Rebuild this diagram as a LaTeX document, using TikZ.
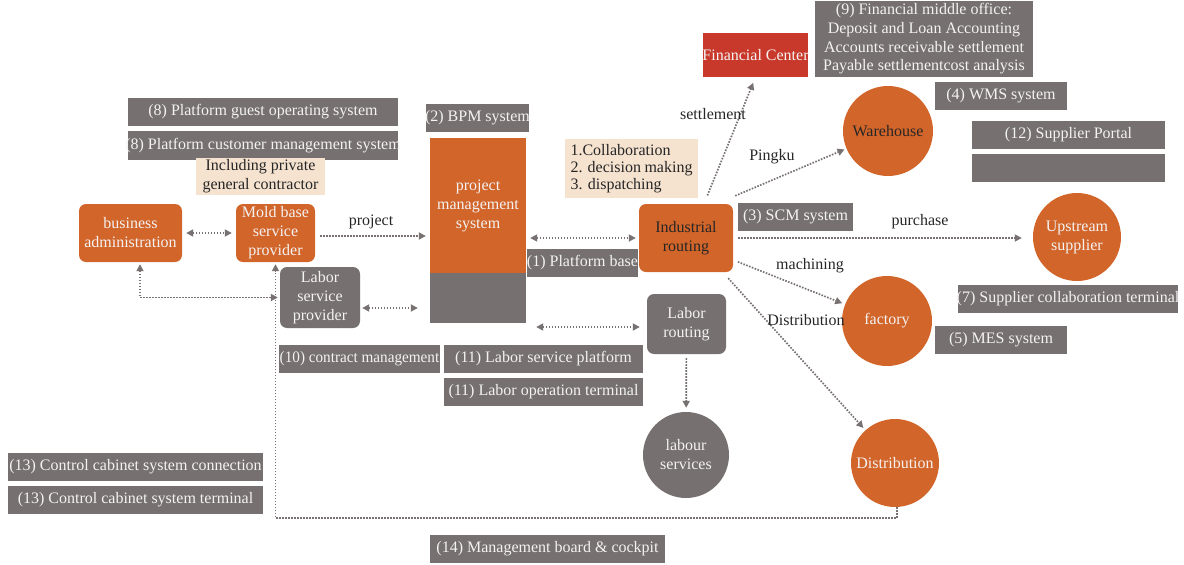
\documentclass[tikz,border=0pt]{standalone}
\usepackage{fontspec}
\setmainfont{Liberation Serif}
\usetikzlibrary{arrows.meta}
\definecolor{org}{HTML}{D2652A}
\definecolor{gry}{HTML}{767070}
\definecolor{bge}{HTML}{F5E3D0}
\definecolor{redc}{HTML}{C9392B}
\definecolor{lnc}{HTML}{777171}
\definecolor{dk}{HTML}{262626}
\definecolor{wt}{HTML}{F4F2F2}
\newcommand{\ovf}[1]{\makebox[0pt]{#1}}
\begin{document}
\begin{tikzpicture}[x=1pt,y=-1pt,
  every node/.style={font=\fontsize{16}{19}\selectfont, inner sep=0pt, align=center},
  gbox/.style={fill=gry, text=wt, minimum height=28pt},
  bbox/.style={fill=bge, text=dk},
  obox/.style={fill=org, text=wt, rounded corners=7pt},
  grbox/.style={fill=gry, text=wt, rounded corners=7pt},
  ocirc/.style={circle, fill=org, text=wt},
  gcirc/.style={circle, fill=gry, text=wt},
  lbl/.style={text=dk},
  conn/.style={draw=lnc, line width=1.7pt, dash pattern=on 1.6pt off 1.4pt, -{Triangle[length=7pt,width=7pt]}},
  biconn/.style={draw=lnc, line width=1.7pt, dash pattern=on 1.6pt off 1.4pt, {Triangle[length=7pt,width=7pt]}-{Triangle[length=7pt,width=7pt]}}
]
\useasboundingbox (0,0) rectangle (1184,565);

% left top
\node[gbox, minimum width=270pt] (g8a) at (263,112) {(8) Platform guest operating system};
\node[gbox, minimum width=270pt, minimum height=29pt] (g8b) at (263,145.5) {\ovf{(8) Platform customer management system}};
\node[bbox, minimum width=129pt, minimum height=37pt] (inc) at (260.5,176.5) {Including private\\general contractor};
\node[obox, minimum width=103pt, minimum height=58pt] (ba) at (130.5,233) {business\\administration};
\node[obox, minimum width=79pt, minimum height=58pt] (mold) at (275.5,233) {Mold base\\service\\provider};
\node[grbox, minimum width=80pt, minimum height=61pt] (lsp) at (320,297.5) {Labor\\service\\provider};

% project management system column
\node[gbox, minimum width=103pt] (bpm) at (477.5,118) {\ovf{(2) BPM system}};
\node[fill=org, text=wt, minimum width=96pt, minimum height=135pt] (pmst) at (478,205.5) {project\\management\\system};
\node[fill=gry, minimum width=96pt, minimum height=50pt] (pmsb) at (478,298) {};

\node[bbox, minimum width=133pt, minimum height=59pt] (coll) at (631.5,168.5) {\begin{minipage}{122pt}\fontsize{16}{17}\selectfont 1.Collaboration\\2. decision making\\3. dispatching\end{minipage}};

\node[obox, minimum width=94pt, minimum height=68pt, text=dk] (ind) at (686,238) {Industrial\\routing};
\node[gbox, minimum width=111pt] (pb) at (582.5,263) {\ovf{(1) Platform base}};
\node[grbox, minimum width=79pt, minimum height=60pt] (lr) at (686.5,324) {Labor\\routing};
\node[gcirc, minimum size=86pt] (ls) at (686,455) {labour\\services};

\node[gbox, minimum width=161pt] (cm) at (359.5,359) {\ovf{\scalebox{0.95}[1]{(10) contract management}}};
\node[gbox, minimum width=199pt] (lsp11) at (543.5,359) {(11) Labor service platform};
\node[gbox, minimum width=199pt] (lot) at (543.5,392) {(11) Labor operation terminal};

% right side
\node[fill=redc, text=wt, minimum width=105pt, minimum height=44pt] (fc) at (755.5,55) {\ovf{Financial Center}};
\node[gbox, minimum width=218pt, minimum height=76pt, font=\fontsize{16}{18.7}\selectfont] (fmo) at (924,39) {(9) Financial middle office:\\Deposit and Loan Accounting\\Accounts receivable settlement\\Payable settlementcost analysis};
\node[gbox, minimum width=132pt] (wms) at (1001,96) {(4) WMS system};
\node[ocirc, minimum size=90pt, text=dk] (wh) at (888,131) {Warehouse};
\node[gbox, minimum width=193pt] (sp) at (1068.5,135) {(12) Supplier Portal};
\node[gbox, minimum width=193pt] (emp) at (1068.5,168) {};
\node[gbox, minimum width=115pt] (scm) at (795.5,217) {(3) SCM system};
\node[ocirc, minimum size=88pt] (us) at (1077,237) {Upstream\\supplier};
\node[gbox, minimum width=220pt] (sct) at (1068,299) {\ovf{(7) Supplier collaboration terminal}};
\node[ocirc, minimum size=90pt] (fac) at (887,321) {factory};
\node[gbox, minimum width=132pt] (mes) at (1001,340) {(5) MES system};
\node[ocirc, minimum size=88pt] (dist) at (895,463) {Distribution};

% bottom
\node[gbox, minimum width=255pt] (c13a) at (135.5,467) {\ovf{(13) Control cabinet system connection}};
\node[gbox, minimum width=255pt] (c13b) at (135.5,500) {(13) Control cabinet system terminal};
\node[gbox, minimum width=235pt] (mb) at (547.5,549) {(14) Management board \& cockpit};

% connectors
\draw[biconn, shorten <=4pt, shorten >=4pt] (ba) -- (mold);
\coordinate (a3) at ([yshift=-3pt]mold.east);
\draw[conn, shorten <=5pt, shorten >=4pt] (a3) -- (a3 -| pmst.west);
\draw[biconn, shorten <=4pt, shorten >=3pt] (pmst.east |- ind.west) -- (ind.west);
\coordinate (a1) at ([yshift=-10.5pt]lsp.east);
\draw[biconn, shorten <=2pt, shorten >=12pt] (a1) -- (a1 -| pmsb.west);
\coordinate (a2) at ([yshift=-3pt]lr.west);
\draw[biconn, shorten <=10pt, shorten >=7pt] (a2 -| pmsb.east) -- (a2);
\draw[biconn, shorten <=2pt, shorten >=2pt] ([xshift=9.5pt]ba.south) |- (lsp.west);
\coordinate (bl) at (275.5,518);
\draw[conn, shorten >=2pt] ([xshift=2pt]dist.south) |- (bl) -- (mold.south);
\draw[conn, shorten <=4pt, shorten >=4pt] (lr) -- (ls);

\draw[conn, shorten <=9pt, shorten >=6pt] ([xshift=18pt]ind.north) -- (fc.south);
\draw[conn, shorten >=2pt] ([xshift=2pt,yshift=8pt]ind.north east) -- (wh);
\draw[conn, shorten <=5pt, shorten >=11pt] (ind.east) -- (us.west |- ind.east);
\draw[conn, shorten <=5pt, shorten >=3pt] ([yshift=-22pt]ind.east) -- (fac);
\draw[conn, shorten >=3pt] ([xshift=-5pt,yshift=-6pt]ind.south east) -- (dist);

% labels
\node[lbl] (lproj) at (371,222) {project};
\node[lbl] (lset) at (713,114) {settlement};
\node[lbl] (lping) at (772,157) {Pingku};
\node[lbl] (lpur) at (920,222) {purchase};
\node[lbl] (lmach) at (810,266) {machining};
\node[lbl] (ldist) at (806,320) {Distribution};
\end{tikzpicture}
\end{document}
